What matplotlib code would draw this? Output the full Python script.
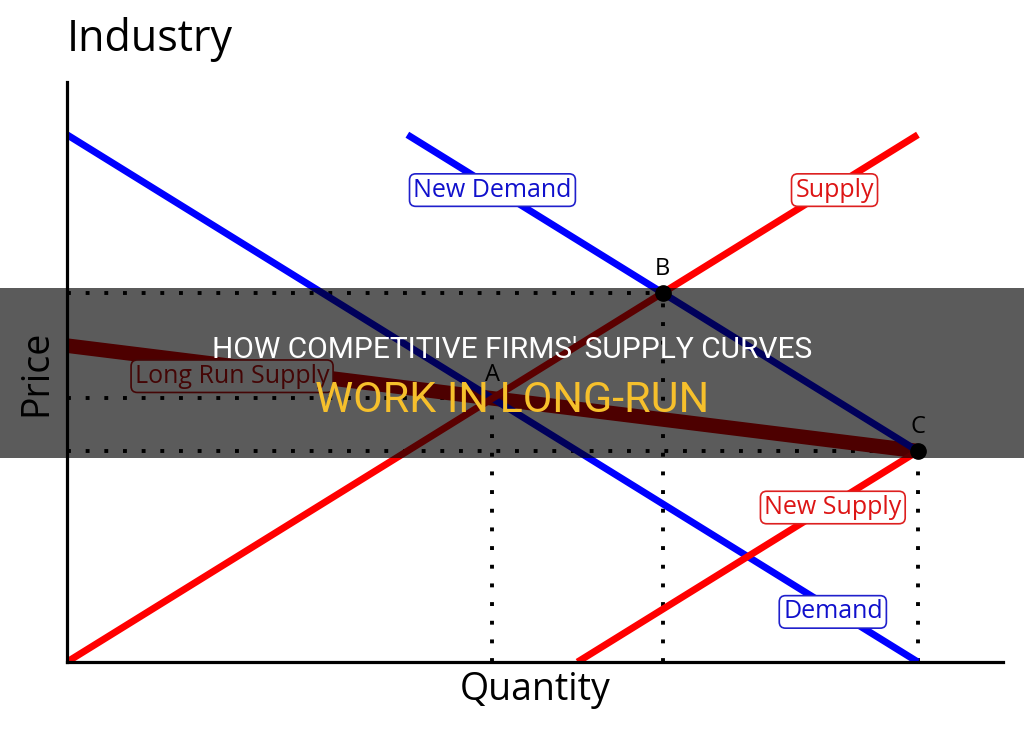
import matplotlib
matplotlib.use("Agg")
import matplotlib.pyplot as plt
from matplotlib.patches import Rectangle

# ---- data (quantity, price) ----
demand_x = [0, 10]
demand_y = [10, 0]
supply_x = [0, 10]
supply_y = [0, 10]
new_demand_x = [4, 10]
new_demand_y = [10, 4]
new_supply_x = [6, 10]
new_supply_y = [0, 4]
lrs_x = [0, 10]
lrs_y = [6, 4]
point_names = ["A", "B", "C"]
point_x = [5, 7, 10]
point_y = [5, 7, 4]
dotted_points = [(5, 5), (7, 7), (10, 4)]

title_line1 = "HOW COMPETITIVE FIRMS' SUPPLY CURVES"
title_line2 = "WORK IN LONG-RUN"

W, H = 1024, 731
fig = plt.figure(figsize=(W / 100, H / 100), dpi=100)
fig.patch.set_facecolor("white")

font = ["Open Sans", "DejaVu Sans"]

# axes: x 0->67px, 11->1003px ; y 0->662px, 11->82px
ax_l, ax_r = 67, 1003
ax_b, ax_t = 662, 82
ax = fig.add_axes([ax_l / W, (H - ax_b) / H, (ax_r - ax_l) / W, (ax_b - ax_t) / H])
ax.set_xlim(0, 11)
ax.set_ylim(0, 11)
for s in ["top", "right"]:
    ax.spines[s].set_visible(False)
for s in ["left", "bottom"]:
    ax.spines[s].set_linewidth(2.3)
    ax.spines[s].set_color("black")
    ax.spines[s].set_zorder(6)
ax.set_xticks([])
ax.set_yticks([])

BLUE = "#0000ff"
RED = "#ff0000"
LRS = "#d80000"

# dotted guides
dot_style = dict(color="black", lw=2.8, linestyle=(0, (1, 3.8)), dash_capstyle="butt", zorder=1)
for (px, py) in dotted_points:
    ax.plot([0, px], [py, py], **dot_style)
    ax.plot([px, px], [0, py], **dot_style)

ax.plot(lrs_x, lrs_y, color=LRS, lw=10.5, solid_capstyle="butt", zorder=2)
ax.plot(demand_x, demand_y, color=BLUE, lw=5, solid_capstyle="butt", zorder=3)
ax.plot(new_demand_x, new_demand_y, color=BLUE, lw=5, solid_capstyle="butt", zorder=3)
ax.plot(supply_x, supply_y, color=RED, lw=5, solid_capstyle="butt", zorder=3)
ax.plot(new_supply_x, new_supply_y, color=RED, lw=5, solid_capstyle="butt", zorder=3)

ax.plot(point_x[1:], point_y[1:], "o", color="black", ms=11, zorder=5, clip_on=False)

offsets = {"A": (0, 0.45), "B": (0, 0.45), "C": (0, 0.45)}
for n, x, y in zip(point_names, point_x, point_y):
    dx, dy = offsets[n]
    ax.text(x + dx, y + dy, n, ha="center", va="center", fontsize=17,
            family=font, color="black", zorder=5)

def boxed(x, y, s, col, ec):
    ax.text(x, y, s, ha="center", va="center", fontsize=18, family=font, color=col,
            zorder=7,
            bbox=dict(boxstyle="round,pad=0.15,rounding_size=0.25", fc="white", ec=ec, lw=1.2))

boxed(5.0, 8.95, "New Demand", "#1010cc", "#2020cc")
boxed(9.02, 8.95, "Supply", "#dd1515", "#dd2020")
boxed(1.94, 5.42, "Long Run Supply", "#c01010", "#c01010")
boxed(9.0, 2.93, "New Supply", "#dd1515", "#dd2020")
boxed(9.0, 0.95, "Demand", "#1010cc", "#2020cc")

# axis titles and header
fig.text(67 / W, 1 - 40 / H, "Industry", ha="left", va="center", fontsize=31, family=font)
fig.text(535 / W, 1 - 690 / H, "Quantity", ha="center", va="center", fontsize=27, family=font)
fig.text(36 / W, 1 - 373 / H, "Price", ha="center", va="center", fontsize=27,
         rotation=90, family=font)

# banner
fig.patches.append(Rectangle((0, 1 - 458 / H), 1, (458 - 288) / H, transform=fig.transFigure,
                             facecolor="black", alpha=0.645, edgecolor="none", zorder=20))
tfont = ["Roboto", "DejaVu Sans"]
fig.text(0.5, 1 - 350 / H, title_line1, ha="center", va="center", fontsize=21.5,
         color="white", family=tfont, zorder=21)
fig.text(0.5, 1 - 400 / H, title_line2, ha="center", va="center", fontsize=31,
         color="#f6c02c", family=tfont, zorder=21)

fig.savefig("out.png", dpi=100)
